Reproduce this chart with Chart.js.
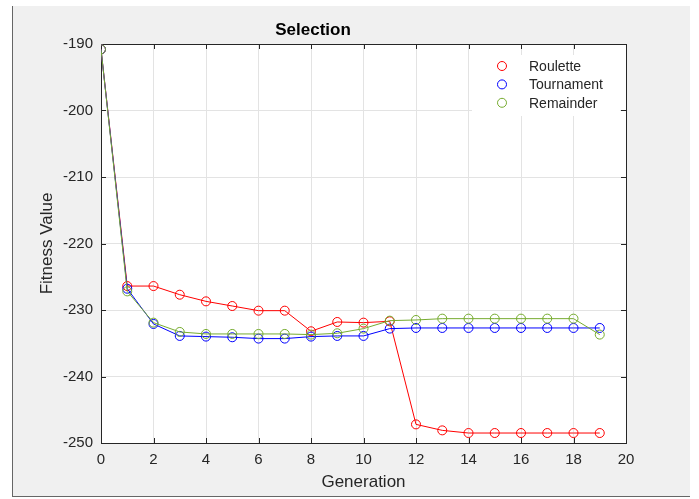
<!DOCTYPE html>
<html>
<head>
<meta charset="utf-8">
<script src="https://cdn.jsdelivr.net/npm/chart.js@4"></script>
<style>
  html, body { margin: 0; padding: 0; background: #ffffff; }
  #frame {
    position: absolute; left: 12px; top: 6px; width: 677px; height: 490px;
    background: #f0f0f0; border-left: 1px solid #666; border-bottom: 1px solid #666;
  }
  #wrap { position: absolute; left: 0; top: 0; width: 699px; height: 499px; }
</style>
</head>
<body>
<div id="frame"></div>
<div id="wrap"><canvas id="selChart" width="699" height="499"></canvas></div>
<script>
// generations on the x axis
const generations = [0, 1, 2, 3, 4, 5, 6, 7, 8, 9, 10, 11, 12, 13, 14, 15, 16, 17, 18, 19];

// best fitness per generation for each selection method
const roulette = [-190.8, -226.4, -226.4, -227.7, -228.7, -229.4, -230.1, -230.1, -233.2, -231.8,
                  -231.9, -231.7, -247.2, -248.1, -248.5, -248.5, -248.5, -248.5, -248.5, -248.5];
const tournament = [-190.8, -226.8, -232.1, -233.9, -234.0, -234.1, -234.3, -234.3, -234.0, -233.9,
                    -233.9, -232.8, -232.7, -232.7, -232.7, -232.7, -232.7, -232.7, -232.7, -232.7];
const remainder = [-190.8, -227.2, -231.9, -233.3, -233.6, -233.6, -233.6, -233.6, -233.7, -233.5,
                   -232.8, -231.6, -231.5, -231.3, -231.3, -231.3, -231.3, -231.3, -231.3, -233.7];

const seriesNames = ['Roulette', 'Tournament', 'Remainder'];
const seriesColors = ['#ff0000', '#0000ff', '#77ac30'];

const FONT = '"Liberation Sans", Arial, Helvetica, sans-serif';
const AXIS_COLOR = '#262626';

function toPoints(values) {
    return generations.map((g, i) => ({ x: g, y: values[i] }));
}

// later series drawn on top, like hold on in matlab
function makeDataset(label, values, color, idx) {
    return {
        label: label,
        data: toPoints(values),
        order: seriesNames.length - idx,
        borderColor: color,
        backgroundColor: 'transparent',
        borderWidth: 1,
        pointRadius: 4.5,
        pointHoverRadius: 4.5,
        pointBorderWidth: 1,
        pointBorderColor: color,
        pointBackgroundColor: 'transparent',
        tension: 0,
    };
}

// white plot area, then box outline and inward tick marks (matlab look)
const axesBox = {
    id: 'axesBox',
    beforeDraw(chart) {
        const { ctx, chartArea: a } = chart;
        ctx.save();
        ctx.fillStyle = '#ffffff';
        ctx.fillRect(a.left, a.top, a.right - a.left, a.bottom - a.top);
        ctx.restore();
    },
    beforeDatasetsDraw(chart) {
        const { ctx, chartArea: a, scales } = chart;
        ctx.save();
        ctx.strokeStyle = AXIS_COLOR;
        ctx.lineWidth = 1;
        ctx.beginPath();
        scales.x.ticks.forEach(t => {
            const px = Math.round(scales.x.getPixelForValue(t.value)) + 0.5;
            ctx.moveTo(px, a.bottom); ctx.lineTo(px, a.bottom - 5);
            ctx.moveTo(px, a.top); ctx.lineTo(px, a.top + 5);
        });
        scales.y.ticks.forEach(t => {
            const py = Math.round(scales.y.getPixelForValue(t.value)) + 0.5;
            ctx.moveTo(a.left, py); ctx.lineTo(a.left + 5, py);
            ctx.moveTo(a.right, py); ctx.lineTo(a.right - 5, py);
        });
        ctx.stroke();
        ctx.strokeStyle = AXIS_COLOR;
        ctx.strokeRect(Math.round(a.left) + 0.5, Math.round(a.top) + 0.5,
                       Math.round(a.right - a.left), Math.round(a.bottom - a.top));
        ctx.restore();
    }
};

// legend box inside the plot, top right
const innerLegend = {
    id: 'innerLegend',
    afterDatasetsDraw(chart) {
        const { ctx, chartArea: a } = chart;
        const boxL = a.right - 154, boxT = a.top + 11, boxW = 148, boxH = 61;
        ctx.save();
        ctx.fillStyle = '#ffffff';
        ctx.fillRect(boxL, boxT, boxW, boxH);
        ctx.font = '14px ' + FONT;
        ctx.textBaseline = 'middle';
        ctx.textAlign = 'left';
        chart.data.datasets.forEach((ds, i) => {
            const y = boxT + 11 + i * 18.4;
            ctx.beginPath();
            ctx.arc(boxL + 30, y, 4.5, 0, Math.PI * 2);
            ctx.strokeStyle = ds.borderColor;
            ctx.lineWidth = 1;
            ctx.stroke();
            ctx.fillStyle = AXIS_COLOR;
            ctx.fillText(ds.label, boxL + 57, y + 1);
        });
        ctx.restore();
    }
};

new Chart(document.getElementById('selChart').getContext('2d'), {
    type: 'line',
    data: {
        datasets: seriesNames.map((name, i) =>
            makeDataset(name, [roulette, tournament, remainder][i], seriesColors[i], i))
    },
    options: {
        responsive: false,
        animation: false,
        layout: { padding: { left: 0, right: 73, top: 0, bottom: 0 } },
        plugins: {
            legend: { display: false },
            tooltip: { enabled: false },
            title: {
                display: true,
                text: 'Selection',
                color: '#000000',
                font: { family: FONT, size: 17, weight: 'bold' },
                padding: { top: 19.8, bottom: 3.8 }
            }
        },
        scales: {
            x: {
                type: 'linear',
                min: 0, max: 20,
                ticks: { stepSize: 2, color: AXIS_COLOR, font: { family: FONT, size: 15 }, padding: 8 },
                grid: { color: '#e3e3e3', drawTicks: false },
                border: { display: false },
                title: {
                    display: true, text: 'Generation', color: AXIS_COLOR,
                    font: { family: FONT, size: 17 }, padding: { top: 0, bottom: 6 }
                },
                afterFit(scale) { scale.height = 56; }
            },
            y: {
                min: -250, max: -190,
                ticks: { stepSize: 10, color: AXIS_COLOR, font: { family: FONT, size: 15 }, padding: 8 },
                grid: { color: '#e3e3e3', drawTicks: false },
                border: { display: false },
                title: {
                    display: true, text: 'Fitness Value', color: AXIS_COLOR,
                    font: { family: FONT, size: 17 }, padding: { top: 37, bottom: 0 }
                },
                afterFit(scale) { scale.width = 101; }
            }
        }
    },
    plugins: [axesBox, innerLegend]
});
</script>
</body>
</html>
